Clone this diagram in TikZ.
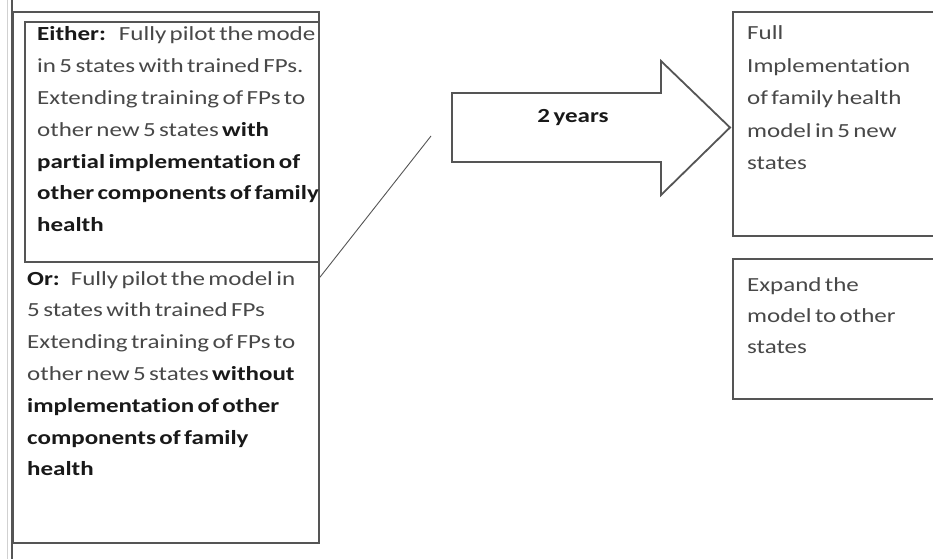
\documentclass[tikz,border=0pt]{standalone}
\usepackage{fontspec}
\setmainfont{Carlito}[FakeStretch=1.25, WordSpace=0.6, Ligatures=NoCommon]
\definecolor{edge}{RGB}{85,85,85}
\definecolor{ink}{RGB}{72,72,72}
\definecolor{inkb}{RGB}{25,25,25}
\newcommand{\boldpart}[1]{\textcolor{inkb}{\bfseries #1}}

\begin{document}
\begin{tikzpicture}[x=1pt,y=-1pt,
  frame/.style={draw=edge, line width=1.8pt, inner sep=0pt, anchor=north west},
  txt/.style={anchor=base west, inner sep=0pt, text=ink},
]
\useasboundingbox (0,0) rectangle (933,559);
\clip (0,0) rectangle (933,559);
\fill[white] (0,0) rectangle (933,559);

% page rules along the left margin
\draw[black!18, line width=1pt] (7,0) -- (7,559);
\draw[edge, line width=1.8pt] (12,0) -- (12,559);

% left column: the two options
\node[frame, minimum width=306, minimum height=531] (outer) at (12,11) {};
\node[frame, minimum width=294, minimum height=240] (either) at (24,21) {};

\node[txt] (eithertext) at (37,41) {\fontsize{20}{31.8}\selectfont
  \begin{tabular}[t]{@{}l@{}}
  \boldpart{Either:}\hspace{13pt}Fully pilot the mode\\
  in 5 states with trained FPs.\\
  Extending training of FPs to\\
  other new 5 states \boldpart{with}\\
  \boldpart{partial implementation of}\\
  \boldpart{other components of family}\\
  \boldpart{health}
  \end{tabular}};

\node[txt] (ortext) at (27,285) {\fontsize{20}{31.8}\selectfont
  \begin{tabular}[t]{@{}l@{}}
  \boldpart{Or:}\hspace{11pt}Fully pilot the model in\\
  5 states with trained FPs\\
  Extending training of FPs to\\
  other new 5 states \boldpart{without}\\
  \boldpart{implementation of other}\\
  \boldpart{components of family}\\
  \boldpart{health}
  \end{tabular}};

% slanted rule from the options column
\coordinate (slantend) at (431,136);
\draw[edge, line width=0.9pt] (outer.east) -- (slantend);

% block arrow for the two-year period
\draw[edge, line width=1.8pt, line join=miter, fill=white]
  (452,93) -- (661,93) -- (661,61) -- (730,127.5) -- (661,195)
  -- (661,162) -- (452,162) -- cycle;
\node[anchor=base, inner sep=0pt, text=inkb] (period) at (573,122)
  {\fontsize{20}{24}\selectfont\bfseries 2 years};

% right column: outcomes
\node[frame, minimum width=230, minimum height=224] (fullbox) at (732,11) {};
\node[frame, minimum width=230, minimum height=140] (expandbox) at (732,258) {};

\node[txt] (fulltext) at (747,40) {\fontsize{20}{32.5}\selectfont
  \begin{tabular}[t]{@{}l@{}}
  Full\\
  Implementation\\
  of family health\\
  model in 5 new\\
  states
  \end{tabular}};

\node[txt] (expandtext) at (747,291) {\fontsize{20}{31}\selectfont
  \begin{tabular}[t]{@{}l@{}}
  Expand the\\
  model to other\\
  states
  \end{tabular}};
\end{tikzpicture}
\end{document}
